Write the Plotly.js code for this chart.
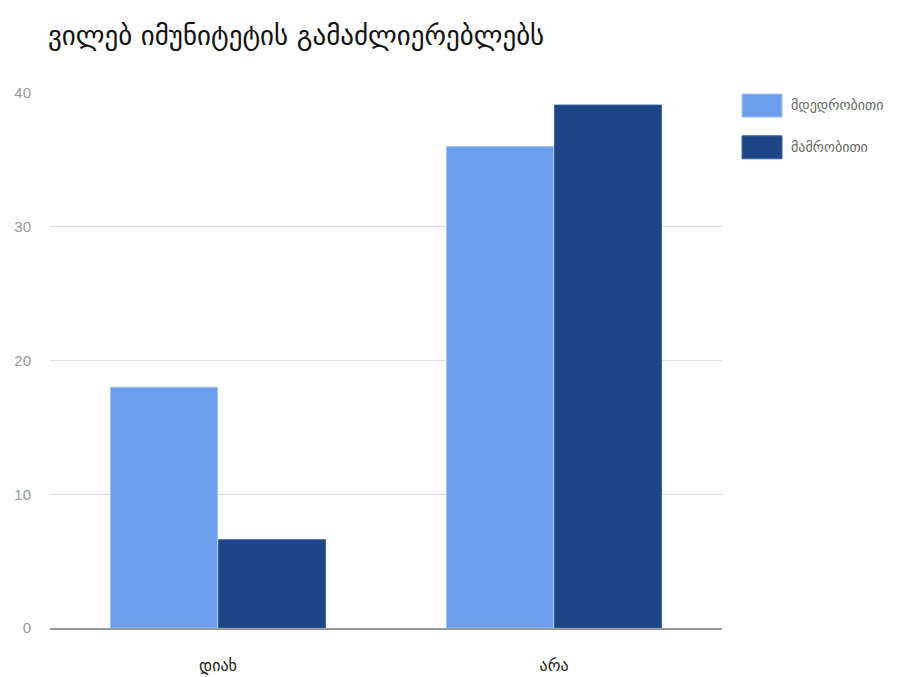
<!DOCTYPE html>
<html>
<head>
<meta charset="utf-8">
<script src="https://cdn.plot.ly/plotly-3.0.1.min.js"></script>
<style>html,body{margin:0;padding:0;background:#fff;}#chart{width:905px;height:677px;}</style>
</head>
<body>
<div id="chart"></div>
<script>
const categories = ["დიახ", "არა"];
const seriesNames = ["მდედრობითი", "მამრობითი"];
const female = [18, 36];
const male = [6.6, 39.1];
const yTicks = [0, 10, 20, 30, 40];
const seriesColors = ["#6d9eeb", "#1c4587"];

const geoFont = "DejaVu Sans, Noto Sans, sans-serif";

const traces = [
  {type: "bar", name: seriesNames[0], x: categories, y: female, showlegend: false,
   marker: {color: seriesColors[0], line: {color: "#a4c2f4", width: 1}}, hoverinfo: "x+y+name"},
  {type: "bar", name: seriesNames[1], x: categories, y: male, showlegend: false,
   marker: {color: seriesColors[1], line: {color: "#3c5f9f", width: 1}}, hoverinfo: "x+y+name"}
];

// custom legend (large swatches like the original)
const legendRows = [{y0: 0.955, y1: 0.998, ty: 0.977}, {y0: 0.877, y1: 0.920, ty: 0.899}];
const shapes = [];
const annotations = [];
seriesNames.forEach((n, i) => {
  const r = legendRows[i];
  shapes.push({type: "rect", xref: "paper", yref: "paper", x0: 1.0298, x1: 1.0893, y0: r.y0, y1: r.y1,
               fillcolor: seriesColors[i], line: {color: i === 0 ? "#a4c2f4" : "#3c5f9f", width: 1}});
  annotations.push({xref: "paper", yref: "paper", x: 1.100, y: r.ty, xanchor: "left", yanchor: "middle",
                    text: n, showarrow: false, font: {family: geoFont, size: 14, color: "#666666"}});
});

const layout = {
  width: 905, height: 677,
  paper_bgcolor: "#ffffff", plot_bgcolor: "#ffffff",
  margin: {l: 50, r: 183, t: 93, b: 49},
  title: {text: "ვილებ იმუნიტეტის გამაძლიერებლებს", x: 0.053, xanchor: "left", y: 0.948, yanchor: "middle",
          font: {family: geoFont, size: 27, color: "#111111"}},
  barmode: "group", bargap: 0.357, bargroupgap: 0.01,
  xaxis: {type: "category", showgrid: false, showline: true, linecolor: "#999999", linewidth: 1.5,
          ticks: "", ticklabelstandoff: 22, tickfont: {family: geoFont, size: 16, color: "#222222"}},
  yaxis: {range: [0, 40], tickvals: yTicks, ticktext: yTicks.map(String), showgrid: true, gridcolor: "#dddddd",
          zeroline: false, showline: false, ticks: "", ticklabelstandoff: 18,
          tickfont: {family: "Liberation Sans, Arial, sans-serif", size: 15, color: "#999999"}},
  shapes: shapes,
  annotations: annotations,
  showlegend: false
};

Plotly.newPlot("chart", traces, layout, {displayModeBar: false, responsive: false});
</script>
</body>
</html>
